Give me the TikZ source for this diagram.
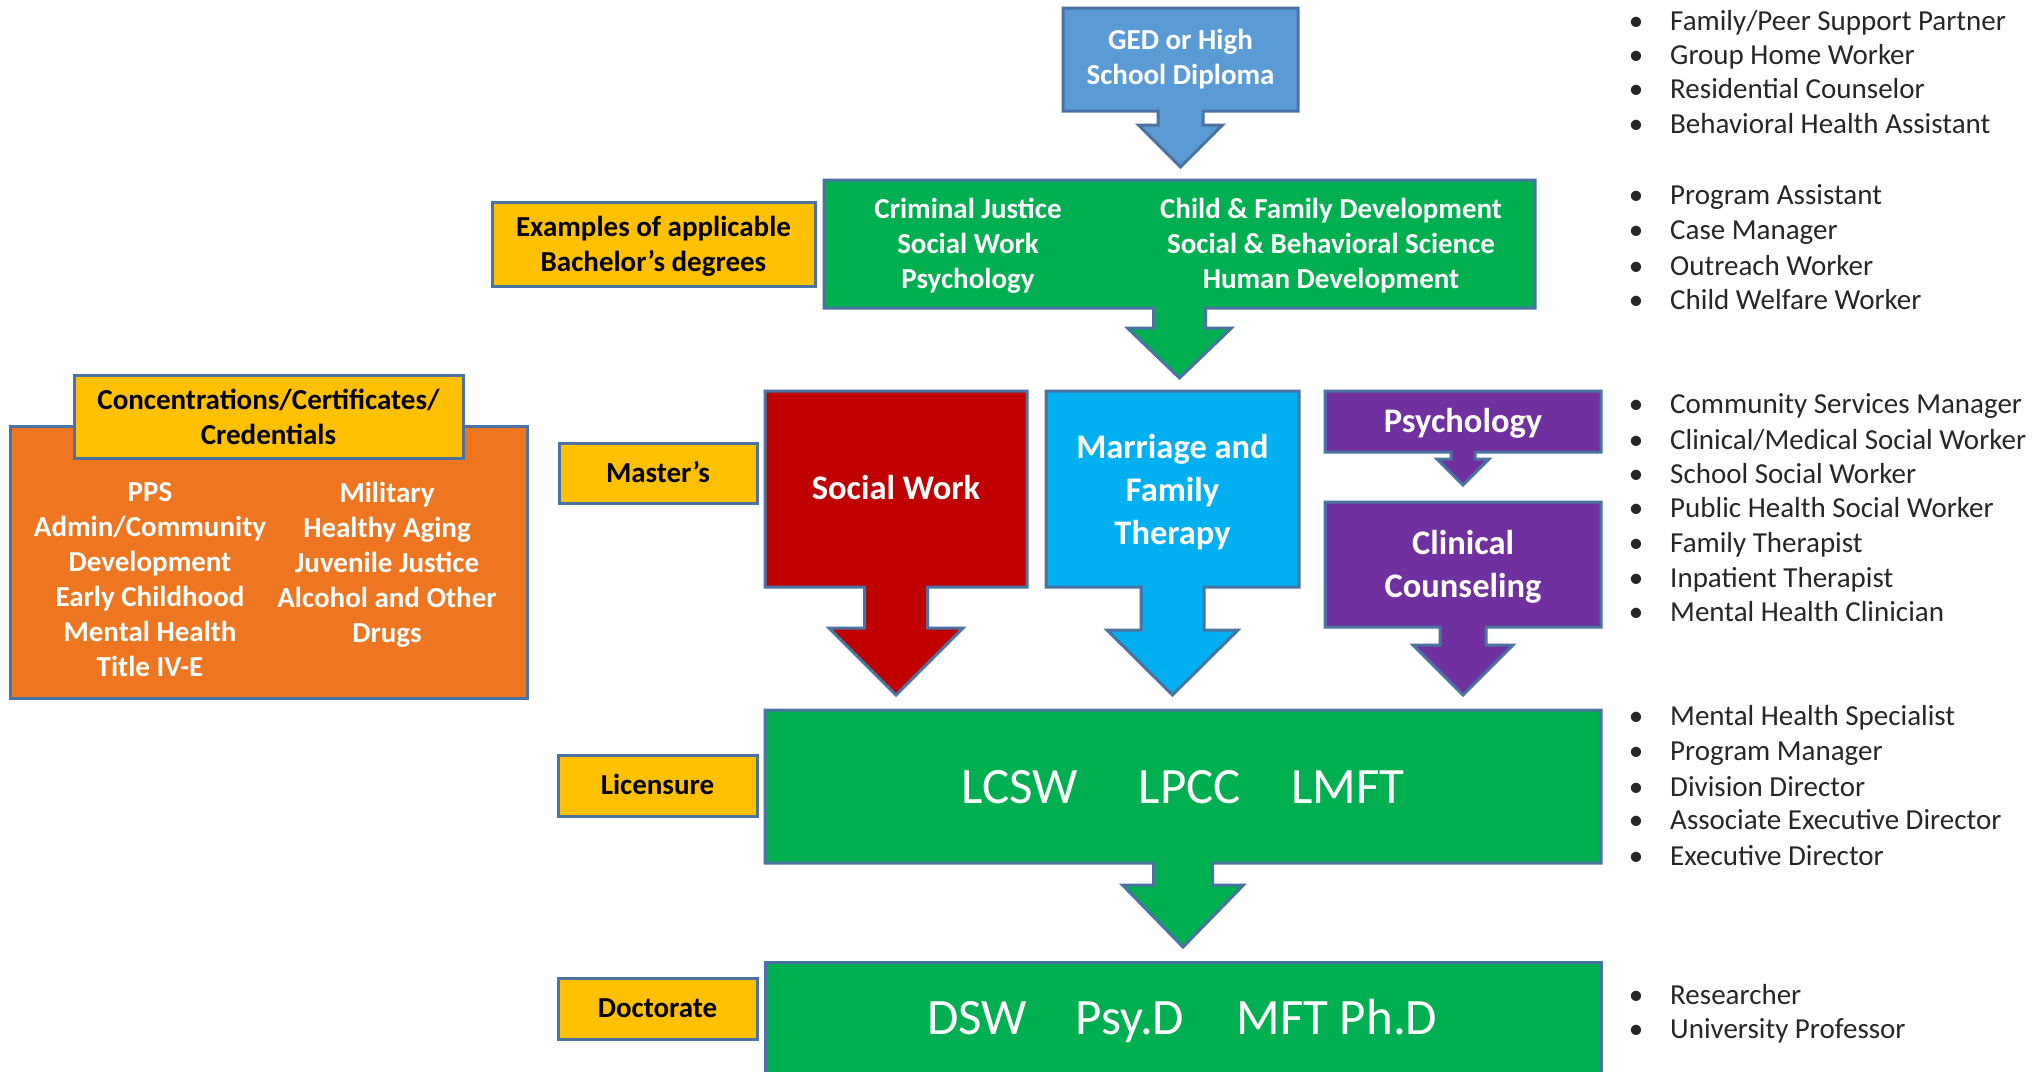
\documentclass[tikz,border=0pt]{standalone}
\usepackage{fontspec}
\setmainfont{Carlito}
\definecolor{olblue}{HTML}{4A72A2}
\definecolor{gedblue}{HTML}{5B9BD5}
\definecolor{grn}{HTML}{00B050}
\definecolor{yel}{HTML}{FFC000}
\definecolor{org}{HTML}{EE7621}
\definecolor{redd}{HTML}{C00000}
\definecolor{cyn}{HTML}{00B0F0}
\definecolor{pur}{HTML}{7030A0}
\definecolor{txtgray}{HTML}{262626}
\tikzset{
  outl/.style={draw=olblue, line width=3pt, line join=miter},
  ybox/.style={draw=olblue, line width=3pt, fill=yel, inner sep=0pt},
  lbl/.style={font=\bfseries\fontsize{29}{35}\selectfont, align=center, inner sep=0pt, anchor=base},
  wlbl/.style={lbl, text=white},
  biglbl/.style={font=\bfseries\fontsize{34.5}{43}\selectfont, align=center, inner sep=0pt, text=white, anchor=base},
  huge/.style={font=\fontsize{51}{60}\selectfont, inner sep=0pt, text=white, anchor=base},
  blt/.style={font=\fontsize{29}{35}\selectfont, anchor=base west, inner sep=0pt, text=txtgray},
  dot/.style={font=\fontsize{29}{35}\selectfont, inner sep=0pt, text=txtgray, anchor=base}
}
\newcommand{\callout}[9]{%
  % #1 fill, #2 left, #3 top, #4 right, #5 bottom, #6 stem half, #7 stem bottom, #8 head half, #9 tip
  \pgfmathsetmacro{\cx}{(#2+#4)/2}%
  \path[outl, fill=#1] (#2,#3) -- (#4,#3) -- (#4,#5) -- (\cx+#6,#5) -- (\cx+#6,#7) -- (\cx+#8,#7) -- (\cx,#9) -- (\cx-#8,#7) -- (\cx-#6,#7) -- (\cx-#6,#5) -- (#2,#5) -- cycle;%
}
\begin{document}
\begin{tikzpicture}[x=1pt,y=-1pt]
\path[use as bounding box] (0,0) rectangle (2042,1071);

% GED
\callout{gedblue}{1063}{8}{1298}{111}{22.5}{125}{42}{167}
\node[wlbl] (ged) at (1180.5,84) {GED or High\\School Diploma};

% Bachelor
\callout{grn}{824}{180}{1535}{308}{26}{328}{52}{378}
\node[wlbl] (bachA) at (968,288) {Criminal Justice\\Social Work\\Psychology};
\node[wlbl] (bachB) at (1331,288) {Child \& Family Development\\Social \& Behavioral Science\\Human Development};
\node[ybox, minimum width=323pt, minimum height=84pt] (exbox) at (653.5,244) {};
\node[lbl] (exlbl) at (653.5,271) {Examples of applicable\\Bachelor’s degrees};

% Concentrations
\node[draw=olblue, line width=3pt, fill=org, inner sep=0pt, minimum width=517pt, minimum height=272pt] (orbox) at (268.5,562) {};
\node[ybox, minimum width=389pt, minimum height=83pt] (concbox) at (268.5,416.5) {};
\node[lbl] (conc) at (268.5,444) {Concentrations/Certificates/\\Credentials};
\node[wlbl] (concA) at (150,676) {PPS\\Admin/Community\\Development\\Early Childhood\\Mental Health\\Title IV-E};
\node[wlbl] (concB) at (387,642) {Military\\Healthy Aging\\Juvenile Justice\\Alcohol and Other\\Drugs};

% Master's
\node[ybox, minimum width=198pt, minimum height=60pt] (mastbox) at (658,473) {};
\node[lbl] (mast) at (658,482) {Master’s};
\callout{redd}{765}{391}{1027}{587}{31.5}{628}{67}{695}
\node[biglbl] (sw) at (896,499) {Social Work};
\callout{cyn}{1046}{391}{1299}{587}{31.5}{630}{65.5}{695}
\node[biglbl] (mft) at (1172.5,544) {Marriage and\\Family\\Therapy};
\callout{pur}{1325}{391}{1601}{452}{12}{459}{26}{485}
\node[biglbl] (psy) at (1463,432) {Psychology};
\callout{pur}{1325}{502}{1601}{627}{23}{645}{50}{695}
\node[biglbl] (cc) at (1463,597) {Clinical\\Counseling};

% Licensure
\node[ybox, minimum width=199pt, minimum height=61pt] (licbox) at (657.5,785.5) {};
\node[lbl] (lic) at (657.5,794) {Licensure};
\callout{grn}{765}{710}{1601}{863}{29.5}{885}{60.5}{947}
\node[huge] (lcsw) at (1020,803) {LCSW};
\node[huge] (lpcc) at (1190,803) {LPCC};
\node[huge] (lmft) at (1348,803) {LMFT};

% Doctorate
\node[ybox, minimum width=199pt, minimum height=61pt] (docbox) at (657.5,1008.5) {};
\node[lbl] (doc) at (657.5,1017) {Doctorate};
\path[outl, fill=grn] (765,962) rectangle (1601,1100);
\node[huge] (dsw) at (977,1034) {DSW};
\node[huge] (psyd) at (1130,1034) {Psy.D};
\node[huge] (mftphd) at (1337,1034) {MFT Ph.D};

% Career bullets
\foreach \y/\t [count=\i] in {
  21/{Family/Peer Support Partner},
  55/{Group Home Worker},
  89/{Residential Counselor},
  124/{Behavioral Health Assistant},
  195/{Program Assistant},
  230/{Case Manager},
  266/{Outreach Worker},
  300/{Child Welfare Worker},
  404/{Community Services Manager},
  440/{Clinical/Medical Social Worker},
  474/{School Social Worker},
  508/{Public Health Social Worker},
  543/{Family Therapist},
  578/{Inpatient Therapist},
  612/{Mental Health Clinician},
  716/{Mental Health Specialist},
  751/{Program Manager},
  787/{Division Director},
  820/{Associate Executive Director},
  856/{Executive Director},
  995/{Researcher},
  1029/{University Professor}}{
  \node[dot] (b\i) at (1636,\y+9) {•};
  \node[blt] (c\i) at (1670,\y+9) {\t};
}
\end{tikzpicture}
\end{document}
